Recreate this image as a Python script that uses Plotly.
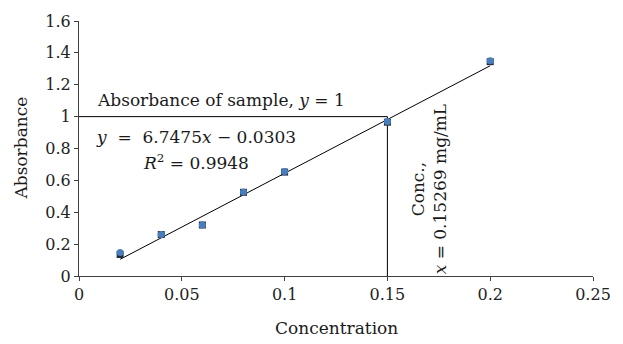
import plotly.graph_objects as go

# Data
conc = [0.02, 0.04, 0.06, 0.08, 0.10, 0.15, 0.20]
abs_a = [0.135, 0.26, 0.32, 0.525, 0.652, 0.965, 1.345]
abs_b = [0.148, 0.26, 0.32, 0.527, 0.655, 0.969, 1.35]
slope = 6.7475
intercept = -0.0303
fit_range = [0.02, 0.20]
sample_y = 1.0
sample_x = 0.15

fit_y = [slope * x + intercept for x in fit_range]

FONT = "DejaVu Serif"
AX = "#404040"

fig = go.Figure()
fig.add_trace(go.Scatter(x=fit_range, y=fit_y, mode="lines",
                         line=dict(color="black", width=1), hoverinfo="skip"))
fig.add_trace(go.Scatter(x=[0, sample_x], y=[sample_y, sample_y], mode="lines",
                         line=dict(color="black", width=1)))
fig.add_trace(go.Scatter(x=[sample_x, sample_x], y=[0, sample_y], mode="lines",
                         line=dict(color="black", width=1)))
fig.add_trace(go.Scatter(x=conc, y=abs_a, mode="markers",
                         marker=dict(symbol="square", size=7, color="#1f2a44")))
fig.add_trace(go.Scatter(x=conc, y=abs_b, mode="markers",
                         marker=dict(symbol="circle", size=7, color="#4a7ebb")))

ann_font = dict(family=FONT, size=17, color="#1a1a1a")
fig.add_annotation(x=0.0693, y=1.107, text="Absorbance of sample, <i>y</i> = 1",
                   showarrow=False, font=ann_font, xanchor="center", yanchor="middle")
fig.add_annotation(x=0.0567, y=0.87, text="<i>y</i>  =  6.7475<i>x</i> − 0.0303",
                   showarrow=False, font=ann_font, xanchor="center", yanchor="middle")
fig.add_annotation(x=0.0567, y=0.718, text="<i>R</i><sup>2</sup> = 0.9948",
                   showarrow=False, font=ann_font, xanchor="center", yanchor="middle")
fig.add_annotation(x=0.1700, y=0.547, text="Conc.,<br><i>x</i> = 0.15269 mg/mL",
                   showarrow=False, textangle=-90, font=ann_font, align="center",
                   xanchor="center", yanchor="middle")
fig.add_annotation(xref="paper", yref="paper", x=0, y=0.5, xshift=-59,
                   xanchor="center", yanchor="middle",
                   text="Absorbance", textangle=-90, showarrow=False, font=ann_font)
fig.add_annotation(xref="paper", yref="paper", x=0.5, y=0, yshift=-52,
                   xanchor="center", yanchor="middle",
                   text="Concentration", showarrow=False, font=ann_font)

fig.update_layout(
    width=623, height=344,
    margin=dict(l=79, r=19, t=13, b=68),
    paper_bgcolor="white", plot_bgcolor="white",
    showlegend=False,
    font=dict(family=FONT, size=16, color="#222"),
    xaxis=dict(range=[0, 0.25], dtick=0.05, tick0=0, showgrid=False, zeroline=False,
               showline=True, linecolor=AX, linewidth=1, ticks="outside",
               ticklen=4, tickcolor=AX, tickfont=dict(family=FONT, size=16, color="#222")),
    yaxis=dict(range=[0, 1.6], dtick=0.2, tick0=0, showgrid=False, zeroline=False,
               showline=True, linecolor=AX, linewidth=1, ticks="outside",
               ticklen=4, tickcolor=AX, tickfont=dict(family=FONT, size=16, color="#222")),
)

fig.write_html("out.html")
